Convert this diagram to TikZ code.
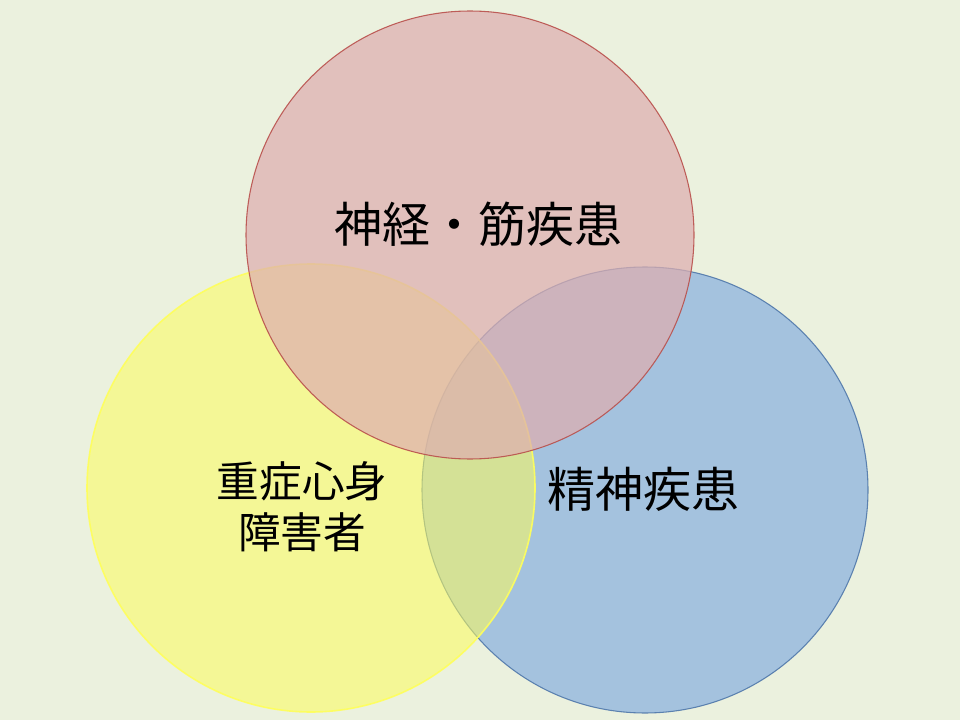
\documentclass[tikz,border=0pt]{standalone}
\usepackage{fontspec}
\newfontfamily\jp{Noto Sans CJK JP}
\definecolor{bgc}{RGB}{235,241,222}
\definecolor{redf}{RGB}{222,174,175}
\definecolor{redd}{RGB}{185,80,76}
\definecolor{yelf}{RGB}{253,252,91}
\definecolor{yeld}{RGB}{255,255,90}
\definecolor{bluf}{RGB}{95,149,222}
\definecolor{blud}{RGB}{80,120,170}
\tikzset{
  venn/.style={line width=0.8pt, draw opacity=0.9},
  lbl/.style={font=\jp\fontsize{36}{38.25}\selectfont, text=black, align=center, inner sep=0pt},
  lblsmall/.style={lbl, font=\jp\fontsize{32}{38.25}\selectfont}
}
\begin{document}
\begin{tikzpicture}[x=0.75pt,y=-0.75pt]
\fill[bgc] (0,0) rectangle (960,720);
\useasboundingbox (0,0) rectangle (960,720);
\draw[venn, fill=bluf, fill opacity=0.5, draw=blud] (645,490) circle[radius=223];
\draw[venn, fill=yelf, fill opacity=0.55, draw=yeld, line width=1.2pt] (311,488) circle[radius=224];
\draw[venn, fill=redf, fill opacity=0.72, draw=redd] (470,235) circle[radius=224];
\node[lbl] (t1) at (478,224) {神経・筋疾患};
\node[lblsmall] (t2) at (302,507) {重症心身\\障害者};
\node[lbl] (t3) at (643,489) {精神疾患};
\end{tikzpicture}
\end{document}
